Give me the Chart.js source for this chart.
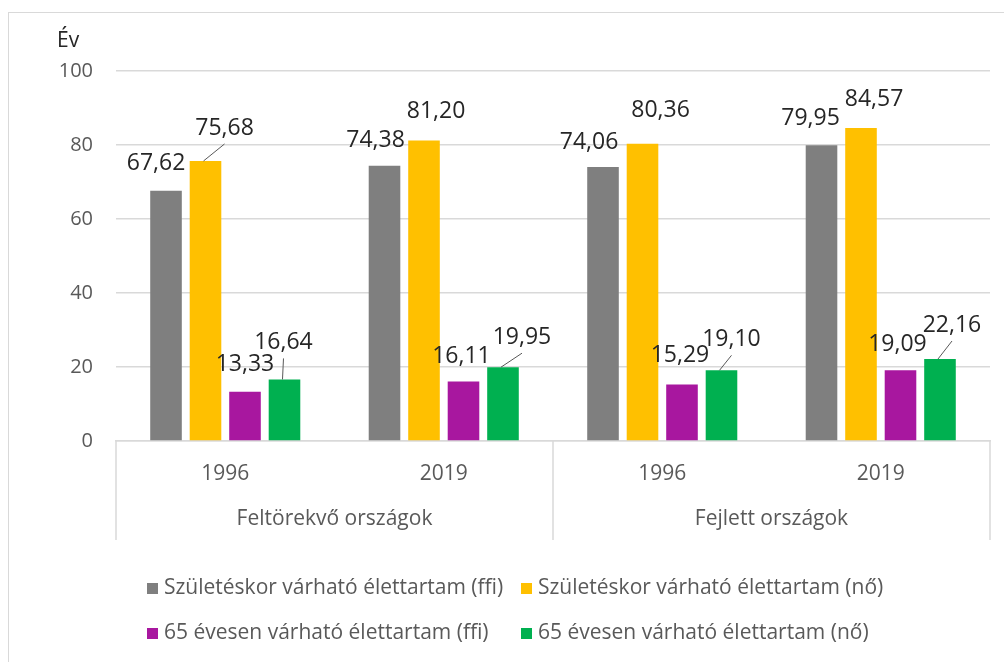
<!DOCTYPE html>
<html>
<head>
<meta charset="utf-8">
<script src="https://cdn.jsdelivr.net/npm/chart.js@4.4.1/dist/chart.umd.min.js"></script>
<style>
  html, body { margin: 0; padding: 0; background: #fff; }
  #wrap { width: 1004px; height: 662px; }
</style>
</head>
<body>
<div id="wrap"><canvas id="lifeChart" width="1004" height="662"></canvas></div>
<script>
// data
const categories = ['1996', '2019', '1996', '2019'];
const groups = ['Feltörekvő országok', 'Fejlett országok'];
const seriesNames = [
    'Születéskor várható élettartam (ffi)',
    'Születéskor várható élettartam (nő)',
    '65 évesen várható élettartam (ffi)',
    '65 évesen várható élettartam (nő)'
];
const birthMale = [67.62, 74.38, 74.06, 79.95];
const birthFemale = [75.68, 81.20, 80.36, 84.57];
const at65Male = [13.33, 16.11, 15.29, 19.09];
const at65Female = [16.64, 19.95, 19.10, 22.16];
const yTicks = [0, 20, 40, 60, 80, 100];

const colors = ['#7f7f7f', '#ffc000', '#a8179f', '#00b050'];

// label placement (dx, dy from bar top, leader line yes/no) - excel had them hand-dragged
const labelPos = [
    [[-10, -27, 0], [-9, -25, 0], [-14, -25, 0], [-11, -27, 0]],
    [[19, -33, 1], [12, -29, 0], [18, -33, 0], [13, -29, 0]],
    [[0, -27, 0], [-2, -25, 0], [-2, -29, 0], [-3, -26, 0]],
    [[-1, -37, 1], [19, -30, 1], [10, -31, 1], [12, -34, 1]]
];

const fmt = v => v.toFixed(2).replace('.', ',');

const frame = {
    id: 'frame',
    beforeDraw(chart) {
        const ctx = chart.ctx;
        ctx.save();
        ctx.fillStyle = '#fff';
        ctx.fillRect(0, 0, chart.width, chart.height);
        ctx.strokeStyle = '#d9d9d9';
        ctx.lineWidth = 1;
        ctx.strokeRect(8.5, 12.5, chart.width + 20, chart.height + 20);
        ctx.restore();
    },
    afterDraw(chart) {
        const ctx = chart.ctx;
        const x = chart.scales.x, x2 = chart.scales.x2, y = chart.scales.y;
        ctx.save();
        // group separators of the two level axis
        const mid = (x2.getPixelForValue(0) + x2.getPixelForValue(1)) / 2;
        ctx.strokeStyle = '#d9d9d9';
        ctx.lineWidth = 1.5;
        [x.left, mid, x.right].forEach(px => {
            ctx.beginPath();
            ctx.moveTo(Math.round(px), x.top);
            ctx.lineTo(Math.round(px), x2.bottom);
            ctx.stroke();
        });
        // axis title
        ctx.fillStyle = '#262626';
        ctx.font = '21px "Open Sans"';
        ctx.textAlign = 'left';
        ctx.textBaseline = 'middle';
        ctx.fillText('Év', 57, y.getPixelForValue(100) - 30);
        // legend, two per row
        const cols = [147, 521];
        const rows = [588, 633];
        ctx.font = '21px "Open Sans"';
        ctx.textBaseline = 'middle';
        chart.data.datasets.forEach((ds, i) => {
            const lx = cols[i % 2], ly = rows[Math.floor(i / 2)];
            ctx.fillStyle = ds.backgroundColor;
            ctx.fillRect(lx, ly - 5, 11, 11);
            ctx.fillStyle = '#595959';
            ctx.fillText(ds.label, lx + 17, ly);
        });
        ctx.restore();
    },
    afterDatasetsDraw(chart) {
        const ctx = chart.ctx;
        ctx.save();
        ctx.font = '23px "Open Sans"';
        ctx.textAlign = 'center';
        ctx.textBaseline = 'middle';
        chart.data.datasets.forEach((ds, i) => {
            chart.getDatasetMeta(i).data.forEach((bar, j) => {
                const p = labelPos[i][j];
                const tx = bar.x + p[0], ty = bar.y + p[1];
                if (p[2]) {
                    ctx.strokeStyle = '#595959';
                    ctx.lineWidth = 1;
                    ctx.beginPath();
                    ctx.moveTo(bar.x - 2, bar.y);
                    ctx.lineTo(tx, ty + 16);
                    ctx.stroke();
                }
                ctx.fillStyle = '#262626';
                ctx.fillText(fmt(ds.data[j]), tx, ty);
            });
        });
        ctx.restore();
    }
};

const seriesData = [birthMale, birthFemale, at65Male, at65Female];

new Chart(document.getElementById('lifeChart'), {
    type: 'bar',
    data: {
        labels: categories,
        datasets: seriesData.map((d, i) => ({
            label: seriesNames[i],
            data: d,
            backgroundColor: colors[i],
            borderWidth: 0,
            categoryPercentage: 0.723,
            barPercentage: 0.8
        }))
    },
    options: {
        responsive: false,
        animation: false,
        layout: { padding: { left: 0, top: 71, right: 14, bottom: 122 } },
        plugins: {
            legend: { display: false },
            tooltip: { enabled: false }
        },
        scales: {
            y: {
                min: 0,
                max: 100,
                afterBuildTicks: s => { s.ticks = yTicks.map(v => ({ value: v })); },
                afterFit: s => { s.width = 116; },
                grid: { color: '#d9d9d9', lineWidth: 1.5, drawTicks: false },
                border: { display: false },
                ticks: { color: '#595959', font: { family: 'Open Sans', size: 20 }, padding: 23 }
            },
            x: {
                weight: 0,
                afterFit: s => { s.height = 54; },
                grid: { display: false, drawTicks: false },
                border: { display: true, color: '#d9d9d9', width: 1.5 },
                ticks: { color: '#595959', font: { family: 'Open Sans', size: 21 }, padding: 20 }
            },
            x2: {
                type: 'category',
                position: 'bottom',
                weight: 1,
                labels: groups,
                offset: true,
                afterFit: s => { s.height = 45; },
                grid: { display: false, drawTicks: false },
                border: { display: false },
                ticks: { color: '#595959', font: { family: 'Open Sans', size: 21 }, padding: 11 }
            }
        }
    },
    plugins: [frame]
});
</script>
</body>
</html>
